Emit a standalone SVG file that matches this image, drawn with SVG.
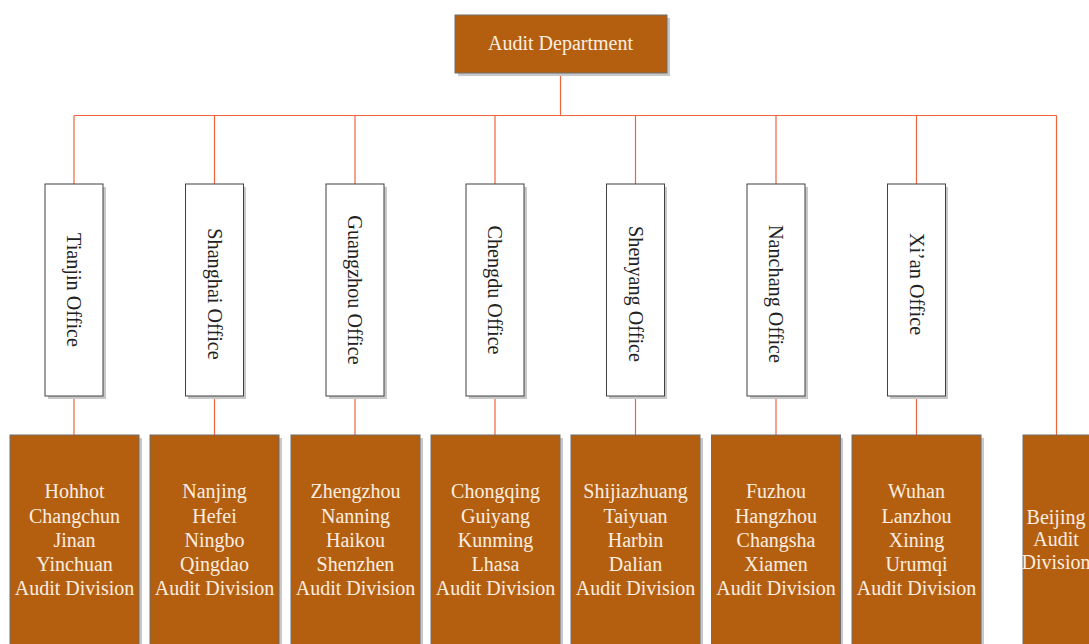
<svg xmlns="http://www.w3.org/2000/svg" width="1089" height="644" viewBox="0 0 1089 644">
  <defs>
    <style>
      .shadow { fill: #c8c8c8; }
      .brown { fill: #b45f10; stroke: #6e6e6e; stroke-width: 1; }
      .office { fill: #ffffff; stroke: #404040; stroke-width: 1; }
      .link { fill: none; stroke: #f0643c; stroke-width: 1.2; }
      .lt { font-family: "Liberation Serif", "Times New Roman", serif; font-size: 20px; fill: #fbeee0; text-anchor: middle; }
      .vt { font-family: "Liberation Serif", "Times New Roman", serif; font-size: 20.2px; fill: #222222; text-anchor: middle; dominant-baseline: central; }
    </style>
  </defs>

  <rect width="1089" height="644" fill="#ffffff"/>

  <!-- connectors -->
  <g id="connectors" class="link">
    <path d="M560.5 73 V115.5"/>
    <path d="M74 115.5 H1056.5"/>
    <path d="M74 115.5 V184 M214.5 115.5 V184 M355 115.5 V184 M495 115.5 V184 M635.5 115.5 V184 M776 115.5 V184 M916.5 115.5 V184"/>
    <path d="M1056.5 115.5 V435"/>
    <path d="M74 396 V435 M214.5 396 V435 M355 396 V435 M495 396 V435 M635.5 396 V435 M776 396 V435 M916.5 396 V435"/>
  </g>

  <!-- head node -->
  <g id="audit-department">
    <rect class="shadow" x="458" y="18" width="212" height="58"/>
    <rect class="brown" x="455" y="15" width="212" height="58"/>
    <text class="lt" x="560.5" y="49.5" font-size="20.3">Audit Department</text>
  </g>

  <!-- offices -->
  <g id="tianjin-office">
    <rect class="shadow" x="48" y="187" width="58" height="212"/>
    <rect class="office" x="45" y="184" width="58" height="212"/>
    <text class="vt" x="74" y="290" transform="rotate(90 74 290)">Tianjin Office</text>
  </g>
  <g id="shanghai-office">
    <rect class="shadow" x="188" y="187" width="58" height="212"/>
    <rect class="office" x="185.5" y="184" width="58" height="212"/>
    <text class="vt" x="214.5" y="294" transform="rotate(90 214.5 294)">Shanghai Office</text>
  </g>
  <g id="guangzhou-office">
    <rect class="shadow" x="329" y="187" width="58" height="212"/>
    <rect class="office" x="326" y="184" width="58" height="212"/>
    <text class="vt" x="355" y="290" transform="rotate(90 355 290)">Guangzhou Office</text>
  </g>
  <g id="chengdu-office">
    <rect class="shadow" x="469" y="187" width="58" height="212"/>
    <rect class="office" x="466" y="184" width="58" height="212"/>
    <text class="vt" x="495" y="290" transform="rotate(90 495 290)">Chengdu Office</text>
  </g>
  <g id="shenyang-office">
    <rect class="shadow" x="609" y="187" width="58" height="212"/>
    <rect class="office" x="606.5" y="184" width="58" height="212"/>
    <text class="vt" x="635.5" y="294" transform="rotate(90 635.5 294)">Shenyang Office</text>
  </g>
  <g id="nanchang-office">
    <rect class="shadow" x="750" y="187" width="58" height="212"/>
    <rect class="office" x="747" y="184" width="58" height="212"/>
    <text class="vt" x="776" y="294" transform="rotate(90 776 294)">Nanchang Office</text>
  </g>
  <g id="xian-office">
    <rect class="shadow" x="890" y="187" width="58" height="212"/>
    <rect class="office" x="887.5" y="184" width="58" height="212"/>
    <text class="vt" x="916.5" y="284" transform="rotate(90 916.5 284)">Xi’an Office</text>
  </g>

  <!-- audit divisions -->
  <g id="division-1">
    <rect class="shadow" x="13" y="438" width="129" height="220"/>
    <rect class="brown" x="10" y="435" width="129" height="220"/>
    <text class="lt"><tspan x="74.5" y="498">Hohhot</tspan><tspan x="74.5" y="522.5">Changchun</tspan><tspan x="74.5" y="547">Jinan</tspan><tspan x="74.5" y="571">Yinchuan</tspan><tspan x="74.5" y="595">Audit Division</tspan></text>
  </g>
  <g id="division-2">
    <rect class="shadow" x="153" y="438" width="129" height="220"/>
    <rect class="brown" x="150" y="435" width="129" height="220"/>
    <text class="lt"><tspan x="214.5" y="498">Nanjing</tspan><tspan x="214.5" y="522.5">Hefei</tspan><tspan x="214.5" y="547">Ningbo</tspan><tspan x="214.5" y="571">Qingdao</tspan><tspan x="214.5" y="595">Audit Division</tspan></text>
  </g>
  <g id="division-3">
    <rect class="shadow" x="294" y="438" width="129" height="220"/>
    <rect class="brown" x="291" y="435" width="129" height="220"/>
    <text class="lt"><tspan x="355.5" y="498">Zhengzhou</tspan><tspan x="355.5" y="522.5">Nanning</tspan><tspan x="355.5" y="547">Haikou</tspan><tspan x="355.5" y="571">Shenzhen</tspan><tspan x="355.5" y="595">Audit Division</tspan></text>
  </g>
  <g id="division-4">
    <rect class="shadow" x="434" y="438" width="129" height="220"/>
    <rect class="brown" x="431" y="435" width="129" height="220"/>
    <text class="lt"><tspan x="495.5" y="498">Chongqing</tspan><tspan x="495.5" y="522.5">Guiyang</tspan><tspan x="495.5" y="547">Kunming</tspan><tspan x="495.5" y="571">Lhasa</tspan><tspan x="495.5" y="595">Audit Division</tspan></text>
  </g>
  <g id="division-5">
    <rect class="shadow" x="574" y="438" width="129" height="220"/>
    <rect class="brown" x="571" y="435" width="129" height="220"/>
    <text class="lt"><tspan x="635.5" y="498">Shijiazhuang</tspan><tspan x="635.5" y="522.5">Taiyuan</tspan><tspan x="635.5" y="547">Harbin</tspan><tspan x="635.5" y="571">Dalian</tspan><tspan x="635.5" y="595">Audit Division</tspan></text>
  </g>
  <g id="division-6">
    <rect class="shadow" x="714" y="438" width="129" height="220"/>
    <rect class="brown" x="711.5" y="435" width="129" height="220"/>
    <text class="lt"><tspan x="776" y="498">Fuzhou</tspan><tspan x="776" y="522.5">Hangzhou</tspan><tspan x="776" y="547">Changsha</tspan><tspan x="776" y="571">Xiamen</tspan><tspan x="776" y="595">Audit Division</tspan></text>
  </g>
  <g id="division-7">
    <rect class="shadow" x="855" y="438" width="129" height="220"/>
    <rect class="brown" x="852" y="435" width="129" height="220"/>
    <text class="lt"><tspan x="916.5" y="498">Wuhan</tspan><tspan x="916.5" y="522.5">Lanzhou</tspan><tspan x="916.5" y="547">Xining</tspan><tspan x="916.5" y="571">Urumqi</tspan><tspan x="916.5" y="595">Audit Division</tspan></text>
  </g>
  <g id="beijing-division">
    <rect class="brown" x="1023" y="435" width="70" height="220"/>
    <text class="lt"><tspan x="1056" y="524">Beijing</tspan><tspan x="1056" y="546">Audit</tspan><tspan x="1056" y="568.5">Division</tspan></text>
  </g>
</svg>
